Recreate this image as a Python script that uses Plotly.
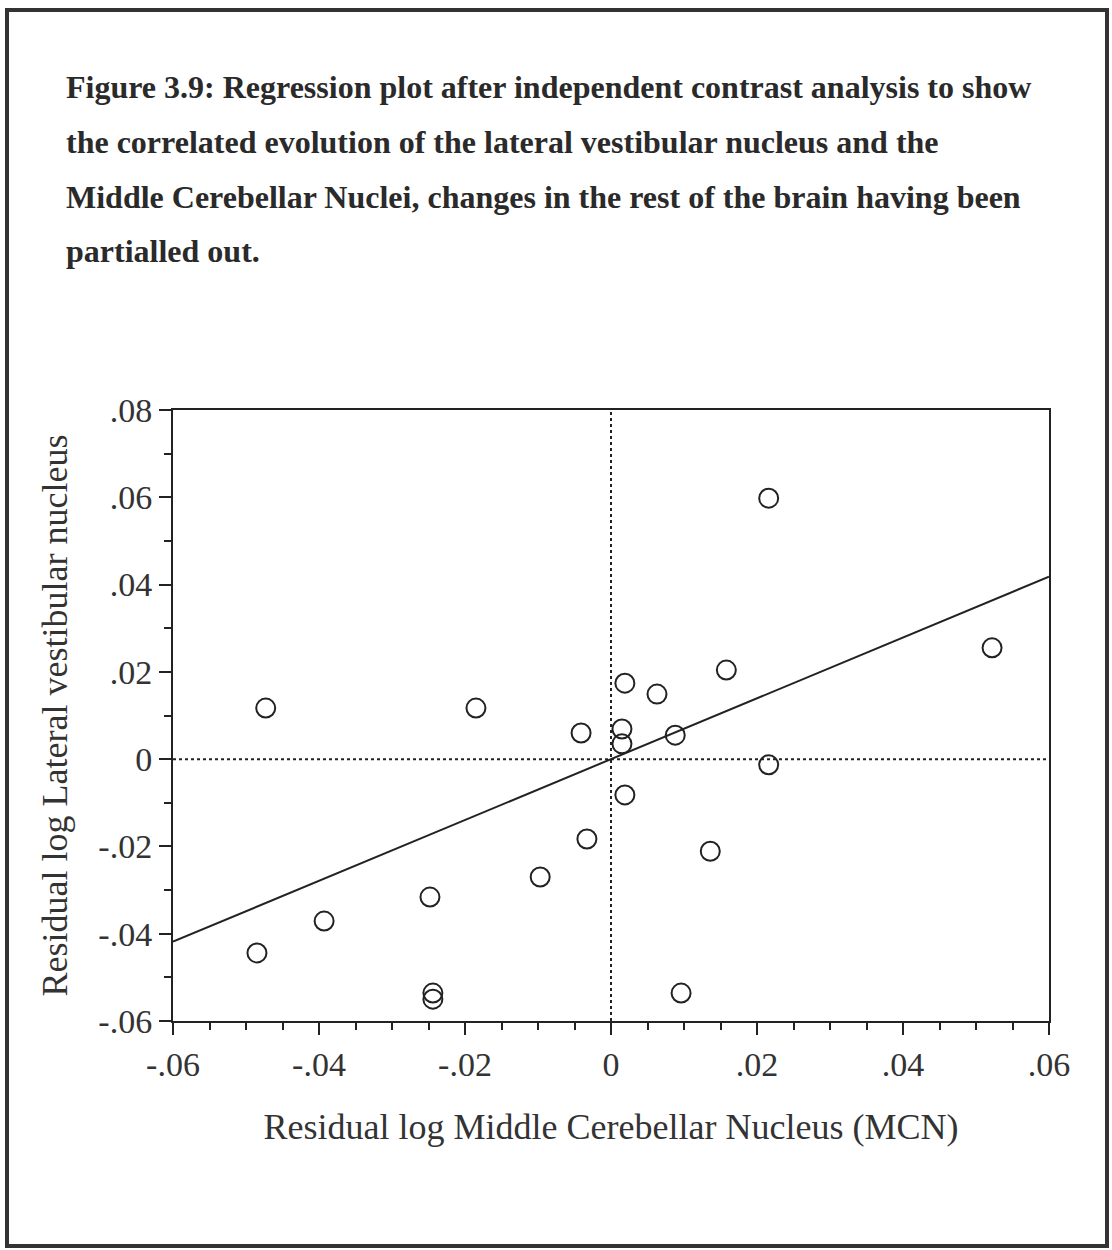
import numpy as np
import plotly.graph_objects as go

# ---- data ----
mcn_resid = [-0.0473, -0.0185, -0.0041, 0.0019, 0.0015, 0.0015, 0.0063, 0.0158,
             0.0088, 0.0216, 0.0522, 0.0216, 0.0019, -0.0033, 0.0136, -0.0097,
             -0.0248, -0.0393, -0.0485, -0.0244, -0.0244, 0.0096]
lvn_resid = [0.0117, 0.0117, 0.0060, 0.0174, 0.0069, 0.0035, 0.0149, 0.0204,
             0.0055, 0.0598, 0.0255, -0.0013, -0.0082, -0.0183, -0.0211, -0.0270,
             -0.0316, -0.0371, -0.0444, -0.0536, -0.0550, -0.0536]

x_tickvals = [-0.06, -0.04, -0.02, 0, 0.02, 0.04, 0.06]
x_ticktext = ["-.06", "-.04", "-.02", "0", ".02", ".04", ".06"]
y_tickvals = [-0.06, -0.04, -0.02, 0, 0.02, 0.04, 0.06, 0.08]
y_ticktext = ["-.06", "-.04", "-.02", "0", ".02", ".04", ".06", ".08"]

title_lines = [
    "Figure 3.9: Regression plot after independent contrast analysis to show",
    "the correlated evolution of the lateral vestibular nucleus and the",
    "Middle Cerebellar Nuclei, changes in the rest of the brain having been",
    "partialled out.",
]

# regression through the origin (independent contrasts)
xa = np.array(mcn_resid)
ya = np.array(lvn_resid)
slope = float((xa * ya).sum() / (xa * xa).sum())
x_line = np.array([-0.06, 0.06])
y_line = slope * x_line

W, H = 1112, 1250
L, R, T, B = 173, 1049, 410, 1021  # plot area pixels
SERIF = "Liberation Serif, Times New Roman, serif"
INK = "#222222"


def px_x(p):
    return (p - L) / (R - L)


def px_y(p):
    return (B - p) / (B - T)


fig = go.Figure()

# dotted reference lines
fig.add_trace(go.Scatter(x=[-0.06, 0.06], y=[0, 0], mode="lines",
                         line=dict(color=INK, width=2, dash="dot"),
                         hoverinfo="skip", showlegend=False))
fig.add_trace(go.Scatter(x=[0, 0], y=[-0.06, 0.08], mode="lines",
                         line=dict(color=INK, width=2, dash="dot"),
                         hoverinfo="skip", showlegend=False))
# regression line
fig.add_trace(go.Scatter(x=x_line, y=y_line, mode="lines",
                         line=dict(color=INK, width=2),
                         showlegend=False))
# points
fig.add_trace(go.Scatter(x=mcn_resid, y=lvn_resid, mode="markers",
                         marker=dict(symbol="circle-open", size=19,
                                     color=INK, line=dict(width=2, color=INK)),
                         showlegend=False))

axis_common = dict(
    showgrid=False, zeroline=False, showline=True, linecolor=INK, linewidth=2,
    mirror=True, ticks="outside", tickcolor=INK, tickwidth=2, ticklen=12,
    tickfont=dict(family=SERIF, size=34, color="#333333"),
)

fig.update_xaxes(
    range=[-0.06, 0.06], tickmode="array", tickvals=x_tickvals, ticktext=x_ticktext,
    minor=dict(dtick=0.005, tick0=0, ticks="outside", ticklen=7, tickwidth=2, tickcolor=INK),
    title=dict(text="Residual log Middle Cerebellar Nucleus (MCN)",
               font=dict(family=SERIF, size=36, color="#333333"), standoff=32),
    **axis_common,
)
fig.update_yaxes(
    range=[-0.06, 0.08], tickmode="array", tickvals=y_tickvals, ticktext=y_ticktext,
    minor=dict(dtick=0.01, tick0=0, ticks="outside", ticklen=7, tickwidth=2, tickcolor=INK),
    title=dict(text="Residual log Lateral vestibular nucleus",
               font=dict(family=SERIF, size=36, color="#333333"), standoff=20),
    **axis_common,
)

# caption lines
line_ys = [87, 142, 197, 251]
for txt, yy in zip(title_lines, line_ys):
    fig.add_annotation(text="<b>" + txt + "</b>", xref="paper", yref="paper",
                       x=px_x(64), y=px_y(yy), xanchor="left", yanchor="middle",
                       showarrow=False,
                       font=dict(family=SERIF, size=32, color="#2a2a2a"))

# outer page frame
fig.add_shape(type="rect", xref="paper", yref="paper",
              x0=px_x(7), x1=px_x(1107), y0=px_y(1246), y1=px_y(10),
              line=dict(color="#333333", width=4), fillcolor="rgba(0,0,0,0)",
              layer="below")

fig.update_layout(
    width=W, height=H,
    margin=dict(l=L, r=W - R, t=T, b=H - B),
    paper_bgcolor="white", plot_bgcolor="white",
    font=dict(family=SERIF),
)

fig.write_html("out.html",
               config={"displayModeBar": False},
               post_script="document.body.style.margin='0px';"
                           "document.body.style.overflow='hidden';")
